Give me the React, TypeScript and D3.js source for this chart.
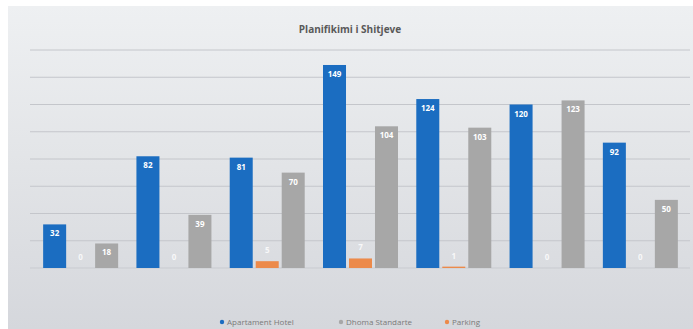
import React from "react";
import * as d3 from "d3";

const categories = ["1", "2", "3", "4", "5", "6", "7"];
const seriesNames = ["Apartament Hotel", "Dhoma Standarte", "Parking"];
const apartament = [32, 82, 81, 149, 124, 120, 92];
const parking = [0, 0, 5, 7, 1, 0, 0];
const dhoma = [18, 39, 70, 104, 103, 123, 50];
const yTicks = [0, 20, 40, 60, 80, 100, 120, 140, 160];
const title = "Planifikimi i Shitjeve";

const W = 693;
const H = 329;
const colors = ["#1b6dc1", "#a7a7a7", "#ec8a4a"];

export default function App() {
  const x0 = d3.scaleBand<string>().domain(categories).range([34, 687]).paddingInner(0.196).paddingOuter(0.098);
  const order = ["a", "p", "d"];
  const x1 = d3.scaleBand<string>().domain(order).range([0, x0.bandwidth()]).paddingInner(0.115).paddingOuter(0);
  const y = d3.scaleLinear().domain([0, 160]).range([268, 50]);
  const seriesData: { key: string; vals: number[]; color: string }[] = [
    { key: "a", vals: apartament, color: colors[0] },
    { key: "p", vals: parking, color: colors[2] },
    { key: "d", vals: dhoma, color: colors[1] },
  ];
  const legend = [
    { name: seriesNames[0], color: colors[0], x: 222 },
    { name: seriesNames[1], color: colors[1], x: 341 },
    { name: seriesNames[2], color: colors[2], x: 447 },
  ];
  return (
    <svg width={W} height={H} style={{ position: "absolute", left: 0, top: 0 }} fontFamily="'Open Sans', sans-serif">
      <defs>
        <linearGradient id="bg" x1="0" y1="0" x2="0" y2="1">
          <stop offset="0" stopColor="#eef0f2" />
          <stop offset="0.5" stopColor="#e2e4e7" />
          <stop offset="1" stopColor="#d5d7dc" />
        </linearGradient>
      </defs>
      <rect width={W} height={H} fill="#ffffff" />
      <rect x={8} y={6} width={W - 8} height={H - 6} fill="url(#bg)" />
      <text x={350} y={33} textAnchor="middle" fontSize={10} fontWeight="bold" fill="#595959">
        {title}
      </text>
      {yTicks.map((t) => (
        <line key={t} x1={30} x2={690} y1={y(t)} y2={y(t)} stroke={t === 0 ? "#c9cbd0" : "#c4c6cb"} strokeWidth={1} />
      ))}
      {seriesData.map((s) =>
        s.vals.map((v, i) => {
          const bx = (x0(categories[i]) as number) + (x1(s.key) as number);
          const bw = x1.bandwidth();
          return (
            <g key={s.key + i}>
              <rect x={bx} y={y(v)} width={bw} height={y(0) - y(v)} fill={s.color} />
              <text
                x={bx + bw / 2}
                y={s.key === "p" ? Math.min(y(v), y(0)) - 8 : y(v) + 12}
                textAnchor="middle"
                fontSize={8}
                fontWeight="bold"
                fill="#ffffff"
                opacity={s.key === "p" ? 0.8 : 1}
              >
                {v}
              </text>
            </g>
          );
        })
      )}
      {legend.map((l) => (
        <g key={l.name}>
          <circle cx={l.x} cy={322} r={2.2} fill={l.color} />
          <text x={l.x + 5} y={325} fontSize={8} fill="#7a7a7a">
            {l.name}
          </text>
        </g>
      ))}
    </svg>
  );
}
